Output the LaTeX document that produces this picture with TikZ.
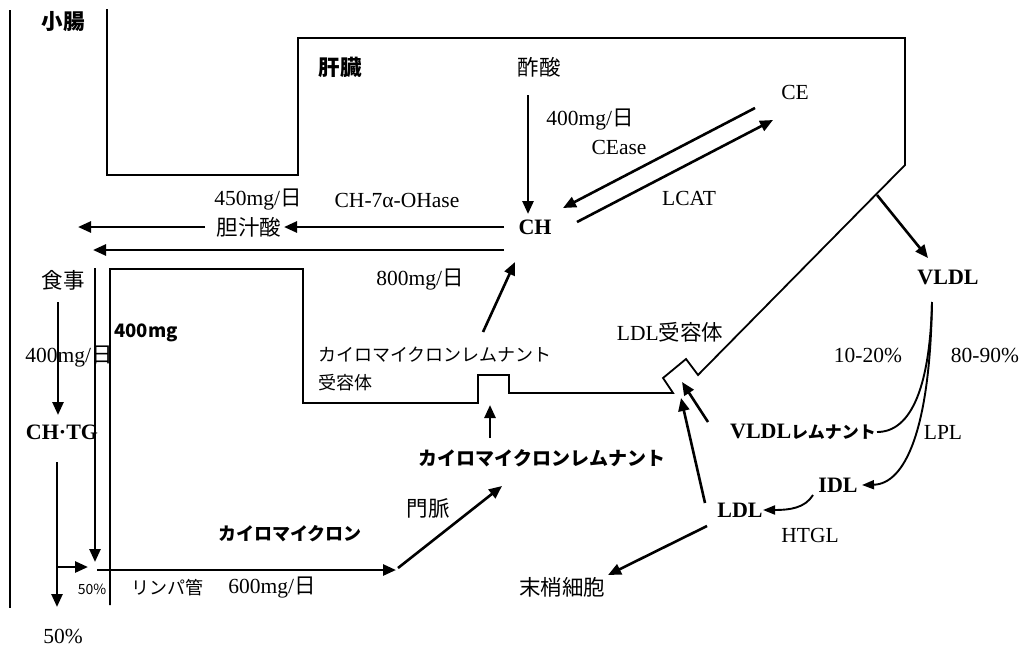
\documentclass[tikz,border=0pt]{standalone}
\usepackage{fontspec}
\setmainfont{Liberation Serif}
\newfontfamily\jp{Noto Sans CJK JP}
\usetikzlibrary{arrows.meta}
\tikzset{
  wall/.style={line width=1.8pt, line join=miter},
  arr/.style={line width=2.6pt, -{Triangle[length=13pt,width=11pt]}},
  lbl/.style={inner sep=0pt, font=\fontsize{21.5}{24}\selectfont},
  blbl/.style={inner sep=0pt, font=\fontsize{22}{24}\selectfont\bfseries},
  jlbl/.style={inner sep=0pt, font=\fontsize{21.5}{24}\selectfont\jp},
  jblbl/.style={inner sep=0pt, font=\fontsize{21.5}{24}\selectfont\jp\bfseries},
}
\begin{document}
\begin{tikzpicture}[x=1pt,y=-1pt]
\useasboundingbox (0,0) rectangle (1024,651);
% ---- walls ----
\draw[line width=2pt] (10,10) -- (10,608);
\draw[wall] (107,9) -- (107,175) -- (298,175) -- (298,38) -- (905,38) -- (905,165)
  -- (698,375) -- (686,359) -- (663,378) -- (673,393) -- (509,393) -- (509,375)
  -- (478,375) -- (478,403) -- (303,403) -- (303,269) -- (110,269) -- (110,605);
% ---- labels ----
\node[jblbl] (sc) at (63,22) {小腸};
\node[jblbl] (kz) at (340,67) {肝臓};
\node[jlbl] (sa) at (539,67) {酢酸};
\node[lbl] (r400) at (590,120) {400mg/{\jp 日}};
\node[lbl] (cease) at (619,147) {CEase};
\node[lbl] (ce) at (795,92) {CE};
\node[lbl] (lcat) at (689,198) {LCAT};
\node[lbl] (r450) at (258,200) {450mg/{\jp 日}};
\node[lbl] (oh) at (397,200) {CH-7α-OHase};
\node[jlbl] (tj) at (249,227) {胆汁酸};
\node[blbl] (ch) at (535,227) {CH};
\node[lbl] (r800) at (420,280) {800mg/{\jp 日}};
\node[jlbl] (sj) at (63,280) {食事};
\node[lbl] (r400l) at (69,357) {400mg/{\jp 日}};
\node[inner sep=0pt, font=\fontsize{18.5}{22}\selectfont\jp\bfseries] (g400) at (146,333) {400mg};
\node[blbl] (chtg) at (62,432) {CH·TG};
\node[inner sep=0pt, font=\fontsize{14}{16}\selectfont\jp] (p50a) at (92,589) {50\%};
\node[lbl] (p50b) at (63,636) {50\%};
\node[jlbl, font=\fontsize{18}{22}\selectfont\jp] (lp) at (167,588) {リンパ管};
\node[lbl] (r600) at (272,588) {600mg/{\jp 日}};
\node[jblbl, font=\fontsize{18}{22}\selectfont\jp\bfseries] (cm) at (290,534) {カイロマイクロン};
\node[jlbl] (mm) at (428,508) {門脈};
\node[jblbl, font=\fontsize{19}{22}\selectfont\jp\bfseries] (cmr) at (542,458) {カイロマイクロンレムナント};
\node[jlbl, anchor=west, font=\fontsize{18}{22}\selectfont\jp] (cmrr1) at (318,355) {カイロマイクロンレムナント};
\node[jlbl, anchor=west, font=\fontsize{18}{22}\selectfont\jp] (cmrr2) at (318,383) {受容体};
\node[lbl] (ldlr) at (670,332) {LDL{\jp 受容体}};
\node[blbl] (vldl) at (948,277) {VLDL};
\node[lbl] (p1020) at (868,355) {10-20\%};
\node[lbl] (p8090) at (985,355) {80-90\%};
\node[blbl] (vr) at (803,432) {VLDL{\jp\fontsize{17}{20}\selectfont レムナント}};
\node[lbl] (lpl) at (943,432) {LPL};
\node[blbl] (idl) at (838,485) {IDL};
\node[blbl] (ldl) at (740,510) {LDL};
\node[lbl] (htgl) at (810,535) {HTGL};
\node[jlbl] (ms) at (562,587) {末梢細胞};
% ---- coordinates ----
\coordinate (saS) at (528,95);   \coordinate (chN) at (528,214);
\coordinate (ceA) at (755,108);  \coordinate (chB) at (563,208);
\coordinate (chC) at (577,222);  \coordinate (ceD) at (773,120);
\coordinate (chW1) at (504,227); \coordinate (tjE) at (284,227);
\coordinate (tjW) at (205,227);  \coordinate (bl1) at (78,227);
\coordinate (chW2) at (504,250); \coordinate (bl2) at (93,250);
\coordinate (rcA) at (483,332);  \coordinate (chS) at (515,262);
\coordinate (cmrN) at (490,438); \coordinate (rcB) at (490,405);
\coordinate (lyA) at (97,570);   \coordinate (lyB) at (396,570);
\coordinate (pvA) at (398,568);  \coordinate (pvB) at (502,486);
\coordinate (sjS) at (58,302);   \coordinate (chtgN) at (58,415);
\coordinate (chtgS) at (57,462); \coordinate (outS) at (57,607);
\coordinate (brA) at (58,567);   \coordinate (brB) at (88,567);
\coordinate (ivA) at (95,268);   \coordinate (ivB) at (95,562);
\coordinate (lvA) at (877,195);  \coordinate (vldlN) at (928,258);
\coordinate (vldlS) at (932,302);
\coordinate (vrE) at (877,432);  \coordinate (idlE) at (862,485);
\coordinate (idlS) at (813,495); \coordinate (ldlE) at (763,510);
\coordinate (ldlA) at (707,526); \coordinate (msB) at (608,575);
\coordinate (ldlN) at (705,503); \coordinate (rcL) at (681,398);
\coordinate (vrW) at (708,422);  \coordinate (rcV) at (682,382);
% ---- arrows ----
\draw[arr] (saS) -- (chN);
\draw[arr] (ceA) -- (chB);
\draw[arr] (chC) -- (ceD);
\draw[arr] (chW1) -- (tjE);
\draw[arr] (tjW) -- (bl1);
\draw[arr] (chW2) -- (bl2);
\draw[arr] (rcA) -- (chS);
\draw[arr] (cmrN) -- (rcB);
\draw[arr] (lyA) -- (lyB);
\draw[arr] (pvA) -- (pvB);
\draw[arr] (sjS) -- (chtgN);
\draw[arr] (chtgS) -- (outS);
\draw[arr] (brA) -- (brB);
\draw[arr] (ivA) -- (ivB);
\draw[arr] (lvA) -- (vldlN);
\draw[line width=1.9pt] (vldlS) .. controls (930,385) and (912,432) .. (vrE);
\draw[line width=1.9pt, -{Triangle[length=12pt,width=9pt]}] (vldlS) .. controls (930,430) and (905,484) .. (idlE);
\draw[line width=1.9pt, -{Triangle[length=12pt,width=9pt]}] (idlS) .. controls (805,508) and (790,510) .. (ldlE);
\draw[arr] (ldlA) -- (msB);
\draw[arr] (ldlN) -- (rcL);
\draw[arr] (vrW) -- (rcV);
\end{tikzpicture}
\end{document}
